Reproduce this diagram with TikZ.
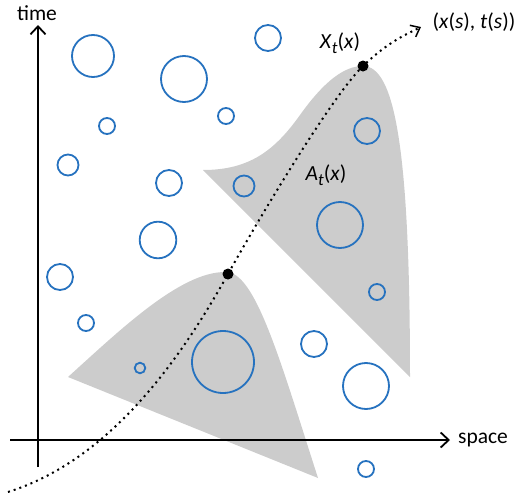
\documentclass[tikz,border=0pt]{standalone}
\usepackage{fontspec}
\setmainfont{Carlito}
\usetikzlibrary{arrows.meta}
\usetikzlibrary{positioning}

\definecolor{bubbleblue}{RGB}{38,114,191}
\newcommand{\subt}[1]{\raisebox{-0.45ex}{\fontsize{17}{19}\selectfont\textit{#1}}}

\begin{document}
\begin{tikzpicture}[x=1pt, y=-1pt,
  axis/.style={line width=1.8pt, -{Straight Barb[length=8pt,width=15pt]}},
  traj/.style={line width=2pt, dash pattern=on 2pt off 4pt,
    -{Straight Barb[length=8pt,width=13pt,line width=1.5pt]}},
  bubble/.style={draw=bubbleblue, line width=1.8pt},
  region/.style={fill=black!20},
  dot/.style={circle, fill=black, inner sep=0pt, minimum size=11pt},
  lab/.style={font=\fontsize{21.5}{25}\selectfont, inner sep=1pt}]
  \useasboundingbox (0,0) rectangle (515,498);

  % 領域
  \fill[region] (68,377) .. controls (120,330) and (180,272) .. (225,272)
    .. controls (255,270) and (280,360) .. (318,478) -- cycle;
  \fill[region] (203,170) .. controls (250,170) and (275,150) .. (300,115)
    .. controls (325,80) and (345,66) .. (363,66)
    .. controls (395,66) and (410,150) .. (410,377) -- cycle;

  % 円
  \foreach \x/\y/\r in {93/56/21, 184/79/23, 268/38/13, 226/116/8, 107/126/8,
      68/165/10.5, 169/183/13, 244/186/10.5, 158/240/18.3, 60/277/13,
      86/323/8, 140/368/5.3, 223/362/31, 314/344/13, 366/386/23,
      366/469/8, 367/131/13, 340/225/23, 377/292/8}
    \draw[bubble] (\x,\y) circle[radius=\r];

  % 軸
  \coordinate (tbot) at (38,467);
  \coordinate (ttop) at (38,25);
  \coordinate (sleft) at (10,440);
  \coordinate (sright) at (450,440);
  \draw[axis] (tbot) -- (ttop);
  \draw[axis] (sleft) -- (sright);
  \node[lab] (time) at (37,13) {time};
  \node[lab] (space) at (483,440) {space};

  % 曲線
  \coordinate (s0) at (8,492);
  \coordinate (xa) at (228,274);
  \coordinate (xb) at (363,66);
  \coordinate (s1) at (421,27);
  \draw[traj] (s0) .. controls (110,460) and (180,360) .. (xa)
    .. controls (262,213) and (333,95) .. (xb)
    .. controls (388,42) and (405,35) .. (s1);
  \node[dot] (dota) at (xa) {};
  \node[dot] (dotb) at (xb) {};

  % ラベル
  \node[lab] (xs) at (474,22) {(\textit{x}(\textit{s}), \textit{t}(\textit{s}))};
  \node[lab] (Xt) at (340,43) {\textit{X}\subt{t}(\textit{x})};
  \node[lab] (At) at (326,175) {\textit{A}\subt{t}(\textit{x})};
\end{tikzpicture}
\end{document}
